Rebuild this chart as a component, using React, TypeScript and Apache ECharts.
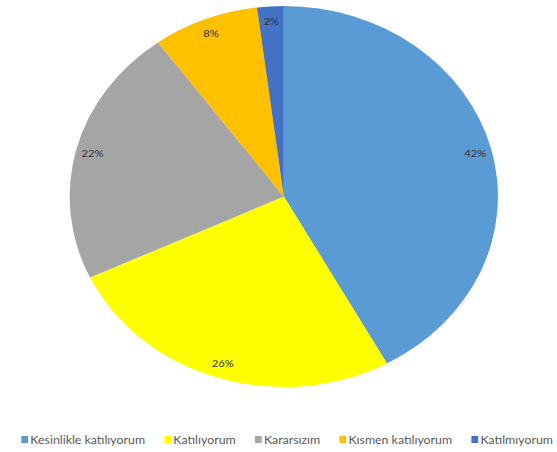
import React, { useEffect, useRef } from "react";
import * as echarts from "echarts";

const categories = [
  "Kesinlikle katılıyorum",
  "Katılıyorum",
  "Kararsızım",
  "Kısmen katılıyorum",
  "Katılmıyorum",
];
const values = [42, 26, 22, 8, 2];
const colors = ["#5B9BD5", "#FFFF00", "#A5A5A5", "#FFC000", "#4472C4"];

const SCALE_X = 1.124;
const WIDTH = 557;
const HEIGHT = 452;
const INNER_W = Math.round(WIDTH / SCALE_X);

export default function App() {
  const ref = useRef<HTMLDivElement>(null);
  useEffect(() => {
    if (!ref.current) return;
    const chart = echarts.init(ref.current, undefined, { renderer: "svg" });
    const data = categories.map((name, i) => ({
      name,
      value: values[i],
      itemStyle: { color: colors[i] },
    }));
    const center = [252.5, 196.5];
    chart.setOption({
      animation: false,
      backgroundColor: "#ffffff",
      legend: {
        data: categories,
        top: 434,
        left: 19,
        padding: 0,
        icon: "rect",
        itemWidth: 6,
        itemHeight: 7,
        itemGap: 17,
        textStyle: {
          fontFamily: "Lato",
          fontSize: 11,
          color: "#595959",
          padding: [0, 0, 0, -3],
        },
      },
      series: [
        {
          type: "pie",
          center,
          radius: [0, 190.5],
          startAngle: 90,
          clockwise: true,
          label: { show: false },
          labelLine: { show: false },
          itemStyle: { borderWidth: 0 },
          emphasis: { disabled: true },
          data,
        },
        {
          type: "pie",
          center,
          radius: [155, 190.5],
          startAngle: 90,
          clockwise: true,
          silent: true,
          legendHoverLink: false,
          itemStyle: { color: "rgba(0,0,0,0)", borderWidth: 0 },
          label: {
            show: true,
            position: "inside",
            formatter: "{c}%",
            fontFamily: "Lato",
            fontSize: 10,
            color: "#333333",
          },
          labelLine: { show: false },
          emphasis: { disabled: true },
          data: categories.map((name, i) => ({ name, value: values[i] })),
        },
      ],
    });
    return () => chart.dispose();
  }, []);
  return (
    <div
      style={{
        position: "fixed",
        left: 0,
        top: 0,
        width: WIDTH,
        height: HEIGHT,
        overflow: "hidden",
        background: "#fff",
      }}
    >
      <div
        ref={ref}
        style={{
          width: INNER_W,
          height: HEIGHT,
          transform: `scaleX(${SCALE_X})`,
          transformOrigin: "0 0",
        }}
      />
    </div>
  );
}
